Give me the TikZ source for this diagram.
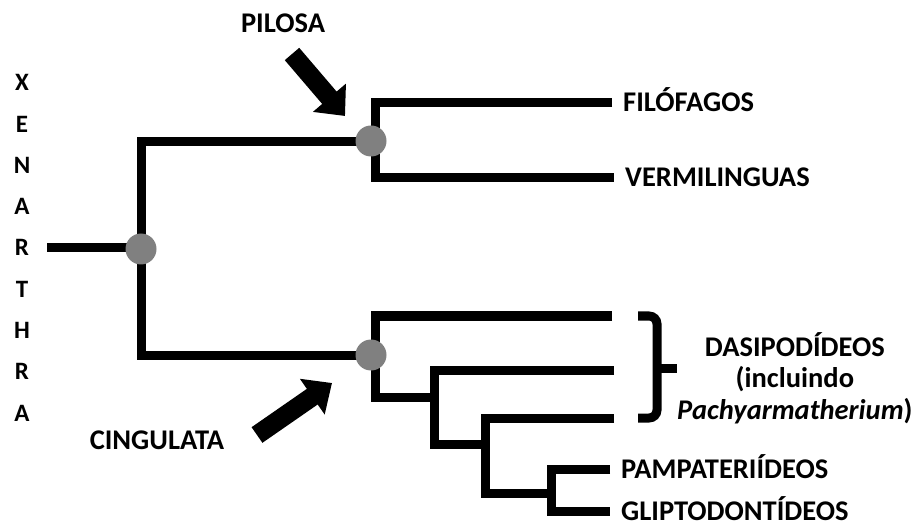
\documentclass[tikz,border=0pt]{standalone}
\usepackage{fontspec}
\setmainfont{Carlito}
\usetikzlibrary{arrows.meta}
\definecolor{nodegray}{RGB}{128,128,128}
\newcommand{\lbl}{\fontsize{28.5}{31.7}\selectfont\bfseries}

\begin{document}
\begin{tikzpicture}[x=1pt, y=-1pt,
		branch/.style={line width=9pt},
		clade/.style={circle, fill=nodegray, minimum size=31pt, inner sep=0pt},
		taxon/.style={anchor=west, inner xsep=11pt, inner ysep=0pt, text height=18pt, text depth=0pt, font=\lbl},
		letter/.style={inner sep=0pt, text height=16pt, text depth=0pt, font=\fontsize{25}{25}\selectfont\bfseries},
		pointer/.style={line width=19pt, -{Triangle[length=24pt,width=42pt]}}]
	\useasboundingbox (0,0) rectangle (920,526);
	\foreach \l [count=\i from 0] in {X,E,N,A,R,T,H,R,A}
		\node[letter] (x\i) at (22,{83+41.25*\i}) {\l};
	\node[font=\lbl] (pilosa) at (283,23) {PILOSA};
	\node[font=\lbl] (cingulata) at (157,440) {CINGULATA};
	\node[taxon] (filo) at (612,103) {FILÓFAGOS};
	\node[taxon] (verm) at (614,178) {VERMILINGUAS};
	\node[taxon] (pamp) at (610,469) {PAMPATERIÍDEOS};
	\node[taxon] (glip) at (610,511) {GLIPTODONTÍDEOS};
	\node[anchor=west, inner sep=0pt, align=center, font=\lbl] (dasy) at (677,378)
		{DASIPODÍDEOS\\(incluindo\\\textit{Pachyarmatherium})};
	\coordinate (base) at (47,248);
	\coordinate (xen) at (141,248);
	\coordinate (pil) at (375,142);
	\coordinate (cin) at (375,355);
	\coordinate (n2) at (434,397);
	\coordinate (n3) at (485,444);
	\coordinate (n4) at (551,493);
	\coordinate (d1) at (612,316);
	\coordinate (d2) at (614,370);
	\coordinate (d3) at (614,418);
	\coordinate (tip) at (657,368);
	\draw[branch] (base) -- (xen);
	\draw[branch] (pil) -| (xen) |- (cin);
	\draw[branch] (filo.west) -| (pil) |- (verm.west);
	\draw[branch] (d1) -| (cin) |- (n2);
	\draw[branch] (d2) -| (n2) |- (n3);
	\draw[branch] (d3) -| (n3) |- (n4);
	\draw[branch] (pamp.west) -| (n4) |- (glip.west);
	\draw[branch, rounded corners=8pt] (638,316) -- (657,316) -- (657,418) -- (638,418);
	\draw[branch] (tip) -- (tip -| dasy.west);
	\node[clade] (xenarthra) at (141,249) {};
	\node[clade] (pilosanode) at (371,141) {};
	\node[clade] (cingnode) at (371,355) {};
	\coordinate (pa) at (292,54);
	\coordinate (pb) at (345,116);
	\coordinate (ca) at (257,435);
	\coordinate (cb) at (332,383);
	\draw[pointer] (pa) -- (pb);
	\draw[pointer] (ca) -- (cb);
\end{tikzpicture}
\end{document}
